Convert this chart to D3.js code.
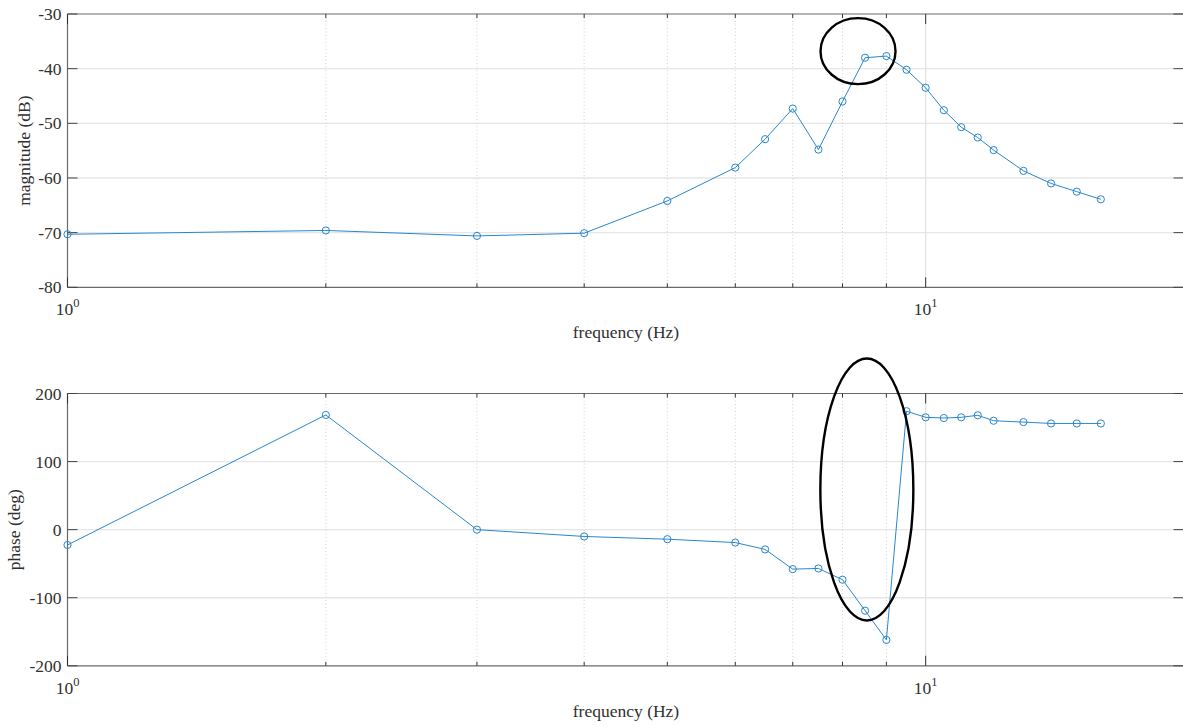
<!DOCTYPE html>
<html>
<head>
<meta charset="utf-8">
<script src="https://cdn.jsdelivr.net/npm/d3@7"></script>
<style>
  html, body { margin: 0; padding: 0; background: #fff; }
  svg { display: block; }
  text { font-family: "Liberation Serif", "Times New Roman", serif; fill: #303030; }
</style>
</head>
<body>
<svg id="chart" width="1183" height="726"></svg>
<script>
// Measured frequency response
const freq = [1, 2, 3, 4, 5, 6, 6.5, 7, 7.5, 8, 8.5, 9, 9.5, 10, 10.5, 11, 11.5, 12, 13, 14, 15, 16];
const magnitude = [-70.3, -69.6, -70.6, -70.1, -64.2, -58.1, -52.9, -47.3, -54.8, -46.0, -38.0, -37.7,
                   -40.2, -43.5, -47.6, -50.7, -52.6, -54.9, -58.7, -61.0, -62.5, -63.9];
const phase = [-22.5, 168.5, 0, -10, -14, -19, -29, -58, -57, -73.5, -119, -162,
               174, 165, 164, 165, 168, 160, 158, 156, 156, 156];

const freqDomain = [1, 20];
const magTicks = [-80, -70, -60, -50, -40, -30];
const phaseTicks = [-200, -100, 0, 100, 200];
const majorFreqTicks = [1, 10];
const minorFreqTicks = [2, 3, 4, 5, 6, 7, 8, 9];

// Highlight ellipses: centre in data units, radii in pixels
const magHighlight = { f: 8.34, v: -36.8, rx: 37.5, ry: 33 };
const phaseHighlight = { f: 8.54, v: 59, rx: 46.5, ry: 131 };

const svg = d3.select("#chart");
const blue = "#2a86cc";

function panel(opts) {
  const { top, bottom, yDomain, yTicks, values, yLabel, yLabelX, highlight } = opts;
  const left = 67.5, right = 1183.5;
  const x = d3.scaleLog().domain(freqDomain).range([left, 1184]);
  const y = d3.scaleLinear().domain(yDomain).range([bottom, top]);
  const g = svg.append("g");

  // horizontal grid
  g.selectAll(".hgrid").data(yTicks.filter(t => t !== yDomain[0] && t !== yDomain[1]))
    .join("line")
    .attr("x1", left).attr("x2", right)
    .attr("y1", d => y(d)).attr("y2", d => y(d))
    .attr("stroke", "#e6e6e6").attr("stroke-width", 1.3);

  // minor vertical grid (dotted)
  g.selectAll(".mgrid").data(minorFreqTicks).join("line")
    .attr("x1", d => x(d)).attr("x2", d => x(d))
    .attr("y1", top).attr("y2", bottom)
    .attr("stroke", "#c8c8c8").attr("stroke-width", 0.8)
    .attr("stroke-dasharray", "1,2.5");

  // major vertical grid
  g.selectAll(".vgrid").data(majorFreqTicks.filter(d => d > freqDomain[0])).join("line")
    .attr("x1", d => x(d)).attr("x2", d => x(d))
    .attr("y1", top).attr("y2", bottom)
    .attr("stroke", "#e0e0e0").attr("stroke-width", 1.2);

  // axes box (right edge falls just outside the view)
  const axisColor = "#6a6a6a";
  g.append("line").attr("x1", left).attr("x2", right).attr("y1", top).attr("y2", top)
    .attr("stroke", axisColor).attr("stroke-width", 1.2);
  g.append("line").attr("x1", left).attr("x2", right).attr("y1", bottom).attr("y2", bottom)
    .attr("stroke", axisColor).attr("stroke-width", 1.2);
  g.append("line").attr("x1", left).attr("x2", left).attr("y1", top).attr("y2", bottom)
    .attr("stroke", axisColor).attr("stroke-width", 1.2);
  g.append("line").attr("x1", 1184.5).attr("x2", 1184.5).attr("y1", top).attr("y2", bottom)
    .attr("stroke", axisColor).attr("stroke-width", 1.2);

  // y ticks (inward, both sides)
  g.selectAll(".ytl").data(yTicks).join("line")
    .attr("x1", left).attr("x2", left + 10)
    .attr("y1", d => y(d)).attr("y2", d => y(d))
    .attr("stroke", "#444").attr("stroke-width", 1);
  g.selectAll(".ytr").data(yTicks).join("line")
    .attr("x1", right - 10).attr("x2", right)
    .attr("y1", d => y(d)).attr("y2", d => y(d))
    .attr("stroke", "#444").attr("stroke-width", 1);

  // x ticks (inward, top and bottom)
  [[majorFreqTicks, 10], [minorFreqTicks, 4]].forEach(([ticks, len]) => {
    g.selectAll(null).data(ticks).join("line")
      .attr("x1", d => x(d)).attr("x2", d => x(d))
      .attr("y1", bottom).attr("y2", bottom - len)
      .attr("stroke", "#333").attr("stroke-width", 1);
    g.selectAll(null).data(ticks).join("line")
      .attr("x1", d => x(d)).attr("x2", d => x(d))
      .attr("y1", top).attr("y2", top + len)
      .attr("stroke", "#333").attr("stroke-width", 1);
  });

  // y tick labels
  g.selectAll(".ylab").data(yTicks).join("text")
    .attr("x", left - 6).attr("y", d => y(d))
    .attr("dy", "0.35em").attr("text-anchor", "end")
    .attr("font-size", 17.5)
    .text(d => d);

  // x tick labels as powers of ten
  const xl = g.selectAll(".xlab").data(majorFreqTicks).join("text")
    .attr("x", d => x(d)).attr("y", bottom + 28)
    .attr("text-anchor", "middle").attr("font-size", 17.5);
  xl.append("tspan").text("10");
  xl.append("tspan").attr("dy", -8).attr("font-size", 12.5).text(d => Math.round(Math.log10(d)));

  // axis titles
  g.append("text").attr("x", 626).attr("y", bottom + 51)
    .attr("text-anchor", "middle").attr("font-size", 17.5).text("frequency (Hz)");
  g.append("text")
    .attr("transform", `translate(${yLabelX},${(top + bottom) / 2}) rotate(-90)`)
    .attr("text-anchor", "middle").attr("font-size", 17.5).text(yLabel);

  // data line + markers
  const pts = freq.map((f, i) => [f, values[i]]);
  g.append("path").datum(pts)
    .attr("fill", "none").attr("stroke", blue).attr("stroke-width", 1)
    .attr("d", d3.line().x(d => x(d[0])).y(d => y(d[1])));
  g.selectAll(".mk").data(pts).join("circle")
    .attr("cx", d => x(d[0])).attr("cy", d => y(d[1])).attr("r", 3.6)
    .attr("fill", "none").attr("stroke", blue).attr("stroke-width", 1);

  // highlight ellipse
  g.append("ellipse")
    .attr("cx", x(highlight.f)).attr("cy", y(highlight.v))
    .attr("rx", highlight.rx).attr("ry", highlight.ry)
    .attr("fill", "none").attr("stroke", "#000").attr("stroke-width", 2.4);
}

panel({ top: 14, bottom: 287.3, yDomain: [-80, -30], yTicks: magTicks,
        values: magnitude, yLabel: "magnitude (dB)", yLabelX: 30, highlight: magHighlight });
panel({ top: 393.5, bottom: 665.8, yDomain: [-200, 200], yTicks: phaseTicks,
        values: phase, yLabel: "phase (deg)", yLabelX: 20, highlight: phaseHighlight });
</script>
</body>
</html>
